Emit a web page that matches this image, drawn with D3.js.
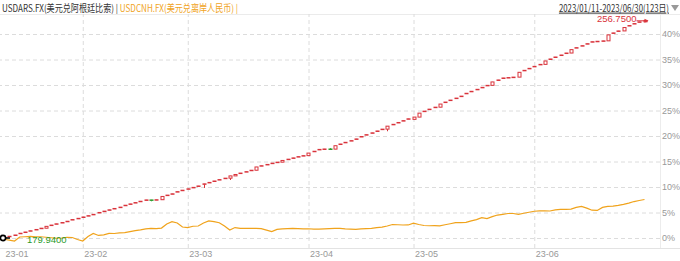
<!DOCTYPE html>
<meta charset="utf-8">
<style type="text/css">
  body{ margin:0; background:#fff; }
  svg{ position:absolute; left:0; top:0; font-family:"Noto Sans CJK SC","Noto Sans",sans-serif; }
</style>
<svg width="680" height="261"></svg>
<script src="https://d3js.org/d3.v7.min.js"></script>
<script>

// USDARS daily candles [open, high, low, close], 2023/01/11 - 2023/06/30
var arsOHLC = [
  [179.94,180.15,179.94,180.10],[180.43,180.57,180.41,180.55],[180.88,181.02,180.86,181.00],
  [181.50,181.64,181.48,181.62],[181.93,182.07,181.91,182.05],[182.38,182.52,182.36,182.50],
  [182.83,182.97,182.81,182.95],[183.28,183.42,183.26,183.40],[183.40,184.07,183.38,184.05],
  [184.38,184.52,184.36,184.50],[184.83,184.97,184.81,184.95],[185.28,185.42,185.26,185.40],
  [185.73,185.87,185.71,185.85],[186.33,186.47,186.31,186.45],[186.76,186.90,186.74,186.88],
  [187.23,187.37,187.21,187.35],[187.70,187.84,187.68,187.82],[188.17,188.31,188.15,188.29],
  [188.83,188.97,188.81,188.95],[189.30,189.44,189.28,189.42],[189.77,189.91,189.75,189.89],
  [190.24,190.38,190.22,190.36],[190.71,190.85,190.69,190.83],[191.38,191.52,191.36,191.50],
  [191.85,191.99,191.83,191.97],[192.32,192.46,192.30,192.44],[192.79,192.93,192.77,192.91],
  [193.26,193.40,193.24,193.38],[193.38,193.40,192.90,193.30],[193.33,193.47,193.31,193.45],
  [193.45,194.62,193.43,194.60],[194.95,195.09,194.93,195.07],[195.42,195.56,195.40,195.54],
  [196.18,196.32,196.16,196.30],[196.68,196.82,196.66,196.80],[197.18,197.32,197.16,197.30],
  [197.68,197.82,197.66,197.80],[198.18,198.32,198.16,198.30],[198.93,199.07,197.60,199.05],
  [199.43,199.57,199.41,199.55],[199.93,200.07,199.91,200.05],[200.43,200.57,200.41,200.55],
  [200.93,201.07,200.91,201.05],[201.05,201.87,200.40,201.85],[201.85,202.37,201.83,202.35],
  [202.73,202.87,202.71,202.85],[203.23,203.37,203.21,203.35],[203.73,203.87,203.71,203.85],
  [203.85,205.02,203.83,205.00],[205.33,205.47,205.31,205.45],[205.78,205.92,205.76,205.90],
  [206.23,206.37,206.21,206.35],[206.58,206.72,206.56,206.70],[206.70,207.32,206.68,207.30],
  [207.63,207.77,207.61,207.75],[208.08,208.22,208.06,208.20],[208.53,208.67,208.51,208.65],
  [208.88,209.02,208.86,209.00],[209.00,209.92,208.98,209.90],[210.43,210.57,210.41,210.55],
  [211.08,211.22,211.06,211.20],[211.23,211.37,211.21,211.35],[211.35,211.60,211.00,211.30],
  [211.30,212.52,211.28,212.50],[212.98,213.12,212.96,213.10],[213.58,213.72,213.56,213.70],
  [214.18,214.32,214.16,214.30],[214.78,214.92,214.76,214.90],[215.63,215.77,215.61,215.75],
  [216.28,216.42,216.26,216.40],[216.93,217.07,216.91,217.05],[217.58,217.72,217.56,217.70],
  [218.23,218.37,218.21,218.35],[218.35,219.42,217.60,219.40],[219.93,220.07,219.91,220.05],
  [220.58,220.72,220.56,220.70],[221.23,221.37,221.21,221.35],[221.88,222.02,221.86,222.00],
  [221.80,222.62,221.78,222.60],[222.60,224.02,222.58,224.00],[224.58,224.72,224.56,224.70],
  [225.28,225.42,225.26,225.40],[225.98,226.12,225.96,226.10],[226.10,227.22,226.08,227.20],
  [227.78,227.92,227.76,227.90],[228.48,228.62,228.46,228.60],[229.18,229.32,229.16,229.30],
  [229.88,230.02,229.86,230.00],[230.88,231.02,230.86,231.00],[231.58,231.72,231.56,231.70],
  [232.28,232.42,232.26,232.40],[232.98,233.12,232.96,233.10],[233.68,233.82,233.66,233.80],
  [233.80,235.02,233.78,235.00],[235.58,235.72,235.56,235.70],[236.28,236.42,236.26,236.40],
  [236.43,236.57,236.41,236.55],[236.58,236.72,236.56,236.70],[236.70,238.42,236.68,238.40],
  [238.98,239.12,238.96,239.10],[239.68,239.82,239.66,239.80],[240.38,240.52,240.36,240.50],
  [241.08,241.22,241.06,241.20],[241.20,242.42,241.18,242.40],[242.98,243.12,242.96,243.10],
  [243.68,243.82,243.66,243.80],[244.38,244.52,244.36,244.50],[245.08,245.22,245.06,245.20],
  [245.20,246.42,245.18,246.40],[246.98,247.12,246.96,247.10],[247.68,247.82,247.66,247.80],
  [248.38,248.52,248.36,248.50],[249.08,249.22,249.06,249.20],[249.23,249.37,249.21,249.35],
  [249.38,249.52,249.36,249.50],[249.50,251.62,249.48,251.60],[252.18,252.32,252.16,252.30],
  [252.88,253.02,252.86,253.00],[253.00,254.22,252.98,254.20],[254.78,254.92,254.76,254.90],
  [255.48,255.62,255.46,255.60],[256.08,256.22,256.06,256.20],[256.20,256.75,256.18,256.70]
];

// USDCNH daily close
var cnhClose = [
  6.7531,6.7429,6.7294,6.7835,6.7869,6.7903,6.7869,6.7869,6.7802,6.7734,
  6.7666,6.7700,6.7802,6.7768,6.7497,6.7294,6.7903,6.8309,6.8039,6.8106,
  6.8309,6.8295,6.8377,6.8411,6.8546,6.8682,6.8783,6.8919,6.8986,6.8952,
  6.9020,6.9562,6.9866,6.9697,6.9156,6.9088,6.9257,6.9291,6.9697,6.9968,
  6.9866,6.9731,6.9291,6.8749,6.9088,6.8986,6.8980,6.8992,6.8986,6.8952,
  6.8749,6.8546,6.8851,6.8919,6.8952,6.8986,6.8952,6.8919,6.8925,6.8885,
  6.8880,6.8919,6.8952,6.8986,6.8980,6.8919,6.8885,6.8851,6.8919,6.8952,
  6.8986,6.9088,6.9156,6.9291,6.9494,6.9460,6.9426,6.9430,6.9663,6.9494,
  6.9359,6.9325,6.9330,6.9320,6.9460,6.9596,6.9731,6.9735,6.9765,6.9968,
  7.0137,7.0408,7.0273,7.0543,7.0747,7.0848,7.0950,7.0955,7.0848,7.0983,
  7.1119,7.1254,7.1288,7.1290,7.1285,7.1424,7.1491,7.1495,7.1525,7.1762,
  7.1897,7.1660,7.1390,7.1356,7.1762,7.1897,7.1931,7.2033,7.2168,7.2337,
  7.2540,7.2676,7.2811
];

// reference prices for the 0% line
var arsBase = 179.94;
var cnhBase = 6.7700;

var monthStarts = [0, 15, 35, 58, 78, 101];
var monthLabels = ["23-01", "23-02", "23-03", "23-04", "23-05", "23-06"];
var pctTicks = [0, 5, 10, 15, 20, 25, 30, 35, 40];

var svg = d3.select("svg"),
    width = +svg.attr("width"),
    height = +svg.attr("height");

var plotRight = 660, plotTop = 14, plotBottom = 248;
var red = "#d9333b", green = "#2a9a2a", orange = "#f0a31c";
var latin = "'Liberation Sans',Arial,sans-serif";

var x = d3.scaleLinear().domain([0, arsOHLC.length - 1]).range([4, 644.5]);
var y = d3.scaleLinear().domain([0, 40]).range([238, 34]);

function pa(v){ return (v / arsBase - 1) * 100; }
function pc(v){ return (v / cnhBase - 1) * 100; }

// title (narrow face, so squeeze horizontally)
var title = svg.append("text").attr("transform", "translate(2,11.5) scale(0.81,1)")
  .style("font-size", "10px");
title.append("tspan").attr("fill", "#333").text("USDARS.FX(美元兑阿根廷比索) | ");
title.append("tspan").attr("fill", orange).text("USDCNH.FX(美元兑离岸人民币) |");

svg.append("text").attr("transform", "translate(669,11.5) scale(0.78,1)")
  .attr("text-anchor", "end").attr("fill", "#333").style("font-size", "10px")
  .style("text-decoration", "underline").text("2023/01/11-2023/06/30(123日)");
svg.append("path").attr("d", "M671,5L679,5L675,11Z").attr("fill", "#999");

// frame
svg.append("line").attr("x1", 0).attr("x2", width).attr("y1", plotTop + 0.5).attr("y2", plotTop + 0.5)
  .attr("stroke", "#ebebeb");
svg.append("line").attr("x1", 0).attr("x2", width).attr("y1", plotBottom + 0.5).attr("y2", plotBottom + 0.5)
  .attr("stroke", "#e3e3e3");
svg.append("line").attr("x1", plotRight + 0.5).attr("x2", plotRight + 0.5).attr("y1", plotTop).attr("y2", plotBottom)
  .attr("stroke", "#ececec");

// y axis on the right with dashed grid
var yAxis = svg.append("g").attr("transform", "translate(" + plotRight + ",0)")
  .call(d3.axisRight(y).tickValues(pctTicks).tickSize(-plotRight).tickPadding(2)
    .tickFormat(function(d){ return d + "%"; }));
yAxis.select(".domain").remove();
yAxis.selectAll(".tick line").attr("stroke", "#dcdcdc").attr("stroke-dasharray", "4,3");
yAxis.selectAll(".tick text").attr("fill", "#999").style("font-size", "9px")
  .style("font-family", latin).attr("x", 2);

// x axis with dashed month lines
var xAxis = svg.append("g").attr("transform", "translate(0," + plotBottom + ")")
  .call(d3.axisBottom(x).tickValues(monthStarts).tickSize(-(plotBottom - plotTop))
    .tickFormat(function(d, i){ return monthLabels[i]; }));
xAxis.select(".domain").remove();
xAxis.selectAll(".tick line").attr("stroke", "#dcdcdc").attr("stroke-dasharray", "4,3")
  .filter(function(d){ return d === 0; }).remove();
xAxis.selectAll(".tick text").attr("fill", "#999").attr("text-anchor", "start").attr("x", 1)
  .attr("y", 3).style("font-size", "9px").style("font-family", latin);

// USDCNH line
svg.append("path").datum(cnhClose)
  .attr("fill", "none").attr("stroke", orange).attr("stroke-width", 1.2)
  .attr("d", d3.line().x(function(d, i){ return x(i); }).y(function(d){ return y(pc(d)); }));

// USDARS candles
var bw = 3;
var candles = svg.append("g").selectAll("g").data(arsOHLC).join("g");
candles.append("line")
  .attr("x1", function(d, i){ return Math.round(x(i)) + 0.5; })
  .attr("x2", function(d, i){ return Math.round(x(i)) + 0.5; })
  .attr("y1", function(d){ return y(pa(d[1])); })
  .attr("y2", function(d){ return y(pa(d[2])); })
  .attr("stroke", function(d){ return d[3] >= d[0] ? red : green; });
candles.append("rect")
  .attr("x", function(d, i){ return Math.round(x(i)) - bw / 2 + 0.5; })
  .attr("y", function(d){ return y(pa(Math.max(d[0], d[3]))); })
  .attr("width", bw)
  .attr("height", function(d){ return Math.max(0.5, Math.abs(y(pa(d[0])) - y(pa(d[3])))); })
  .attr("fill", "#fff")
  .attr("stroke", function(d){ return d[3] >= d[0] ? red : green; });

// min / max labels
var maxI = d3.maxIndex(arsOHLC, function(d){ return d[1]; });
var minI = d3.minIndex(arsOHLC, function(d){ return d[2]; });
var maxV = arsOHLC[maxI][1], minV = arsOHLC[minI][2];

svg.append("text").attr("x", x(maxI) - 8).attr("y", y(pa(maxV)) + 2)
  .attr("text-anchor", "end").attr("fill", red).style("font-size", "9.5px")
  .style("font-family", latin).text(maxV.toFixed(4));
svg.append("line").attr("x1", x(maxI) - 8).attr("x2", x(maxI) + 3)
  .attr("y1", y(pa(maxV)) + 0.5).attr("y2", y(pa(maxV)) + 0.5).attr("stroke", red);
svg.append("path").attr("d", "M" + (x(maxI) + 4) + "," + (y(pa(maxV)) + 0.5) + "l-4,-2v4z").attr("fill", red);

svg.append("text").attr("x", x(minI) + 23).attr("y", y(pa(minV)) + 5)
  .attr("fill", green).style("font-size", "9.5px")
  .style("font-family", latin).text(minV.toFixed(4));

// start marker
svg.append("line").attr("x1", x(0)).attr("x2", x(0) + 6).attr("y1", y(0)).attr("y2", y(0))
  .attr("stroke", "#000").attr("stroke-width", 1.5);
svg.append("circle").attr("cx", x(0) - 1).attr("cy", y(0)).attr("r", 2.6)
  .attr("fill", "#fff").attr("stroke", "#000").attr("stroke-width", 1.6);

</script>
